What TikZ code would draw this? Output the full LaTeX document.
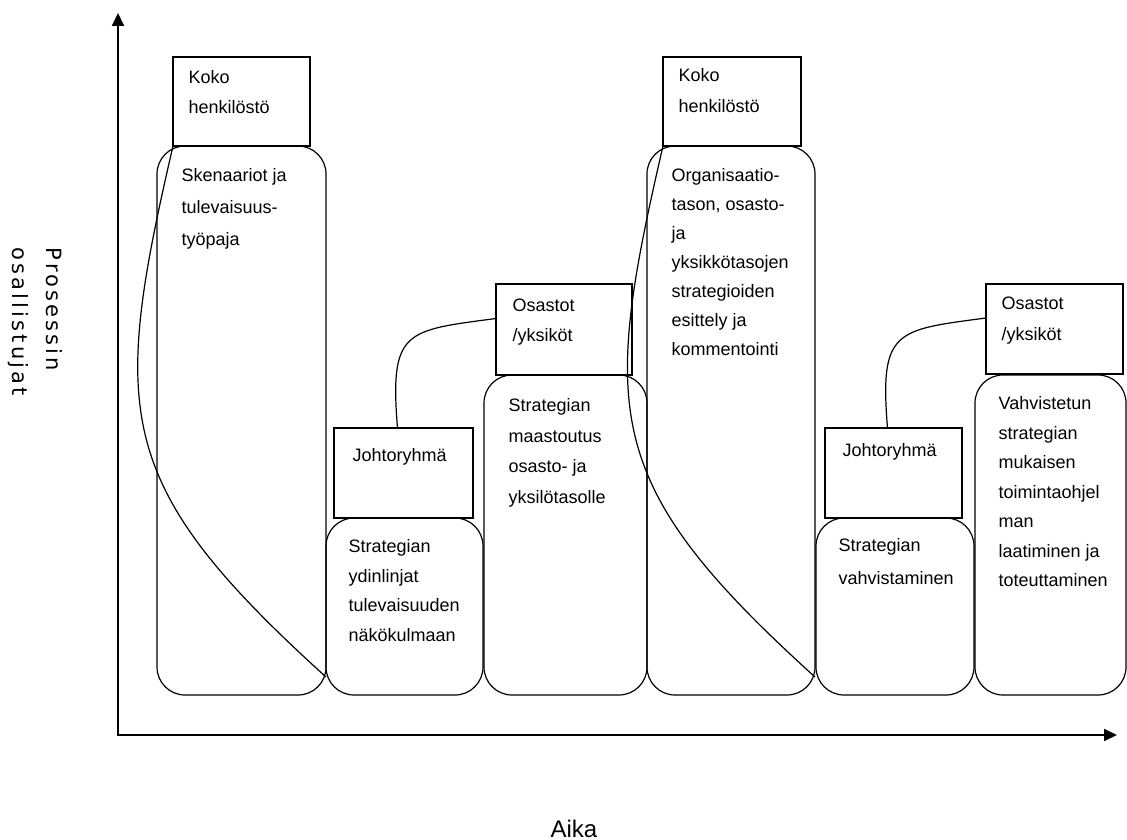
\documentclass[tikz,border=0pt]{standalone}
\usepackage{fontspec}
\setmainfont{Liberation Sans}
\newfontfamily\axisfont[LetterSpace=15]{DejaVu Sans}
\usetikzlibrary{arrows.meta,calc}

\begin{document}
\begin{tikzpicture}[x=1pt,y=-1pt,
  line width=1.2pt,
  headbox/.style={draw, rectangle, anchor=north west, inner sep=0pt, outer sep=0pt},
  stagebox/.style={headbox, rounded corners=28pt},
  lbl/.style={anchor=north west, inner sep=0pt, align=left, font=\fontsize{18}{#1}\selectfont},
  lbl/.default=30,
  link/.style={line width=1.2pt},
  axisline/.style={line width=1.8pt, {Triangle[length=13pt,width=12pt]}-{Triangle[length=13pt,width=12pt]}}
]
\useasboundingbox (0,0) rectangle (1127,840);

% axes
\coordinate (origin) at (118,735);
\coordinate (ytip) at (118,13);
\coordinate (xtip) at (1117,735);
\draw[axisline] (ytip) -- (origin) -- (xtip);

\node[anchor=north west, rotate=-90, inner sep=0pt, align=left,
      font=\axisfont\fontsize{21}{34}\selectfont] (ylabel) at (63,247) {Prosessin\\osallistujat};
\node[anchor=base, inner sep=0pt, font=\fontsize{24}{28}\selectfont] (xlabel) at (574,837) {Aika};

% participant boxes and stage boxes
\node[headbox, minimum width=137pt, minimum height=89pt] (r1) at (173,57) {};
\node[stagebox, minimum width=169pt, minimum height=549pt] (o1) at (157,146) {};
\node[headbox, minimum width=139pt, minimum height=90pt] (j1) at (334,428) {};
\node[stagebox, minimum width=157pt, minimum height=177pt] (o2) at (326,518) {};
\node[headbox, minimum width=136pt, minimum height=91pt] (s1) at (496,284) {};
\node[stagebox, minimum width=163pt, minimum height=320pt] (o3) at (484,375) {};
\node[headbox, minimum width=138pt, minimum height=89pt] (r2) at (663,57) {};
\node[stagebox, minimum width=168pt, minimum height=549pt] (o4) at (647,146) {};
\node[headbox, minimum width=137pt, minimum height=90pt] (j2) at (825,428) {};
\node[stagebox, minimum width=158pt, minimum height=177pt] (o5) at (816,518) {};
\node[headbox, minimum width=137pt, minimum height=90pt] (s2) at (986,284) {};
\node[stagebox, minimum width=151pt, minimum height=320pt] (o6) at (975,375) {};

% texts
\node[lbl=30] (tr1) at (188,70) {Koko\\henkilöstö};
\node[lbl=32] (to1) at (181,168) {Skenaariot ja\\tulevaisuus-\\työpaja};
\node[lbl] (tj1) at (352,448) {Johtoryhmä};
\node[lbl=29.5] (to2) at (348,539) {Strategian\\ydinlinjat\\tulevaisuuden\\näkökulmaan};
\node[lbl=30] (ts1) at (512,298) {Osastot\\/yksiköt};
\node[lbl=30.5] (to3) at (508,398) {Strategian\\maastoutus\\osasto- ja\\yksilötasolle};
\node[lbl=31] (tr2) at (678,68) {Koko\\henkilöstö};
\node[lbl=29] (to4) at (671,168) {Organisaatio-\\tason, osasto-\\ja\\yksikkötasojen\\strategioiden\\esittely ja\\kommentointi};
\node[lbl] (tj2) at (842,443) {Johtoryhmä};
\node[lbl=33] (to5) at (838,538) {Strategian\\vahvistaminen};
\node[lbl=31] (ts2) at (1001,296) {Osastot\\/yksiköt};
\node[lbl=29.5] (to6) at (998,396) {Vahvistetun\\strategian\\mukaisen\\toimintaohjel\\man\\laatiminen ja\\toteuttaminen};

% connecting curves
\draw[link] (r1.south west) .. controls ($(r1.south west)+(-62,268)$) and ($(o1.south east)+(-213,-211)$) .. ($(o1.south east)+(0,-18)$);
\draw[link] (r2.south west) .. controls ($(r2.south west)+(-62,268)$) and ($(o4.south east)+(-213,-211)$) .. ($(o4.south east)+(0,-18)$);
\draw[link] ($(j1.north)+(-6,0)$) .. controls ($(j1.north)+(-14,-98)$) and ($(s1.west)+(-91,1)$) .. ($(s1.west)+(0,-11)$);
\draw[link] ($(j2.north)+(-6,0)$) .. controls ($(j2.north)+(-14,-98)$) and ($(s2.west)+(-91,1)$) .. ($(s2.west)+(0,-11)$);
\end{tikzpicture}
\end{document}
